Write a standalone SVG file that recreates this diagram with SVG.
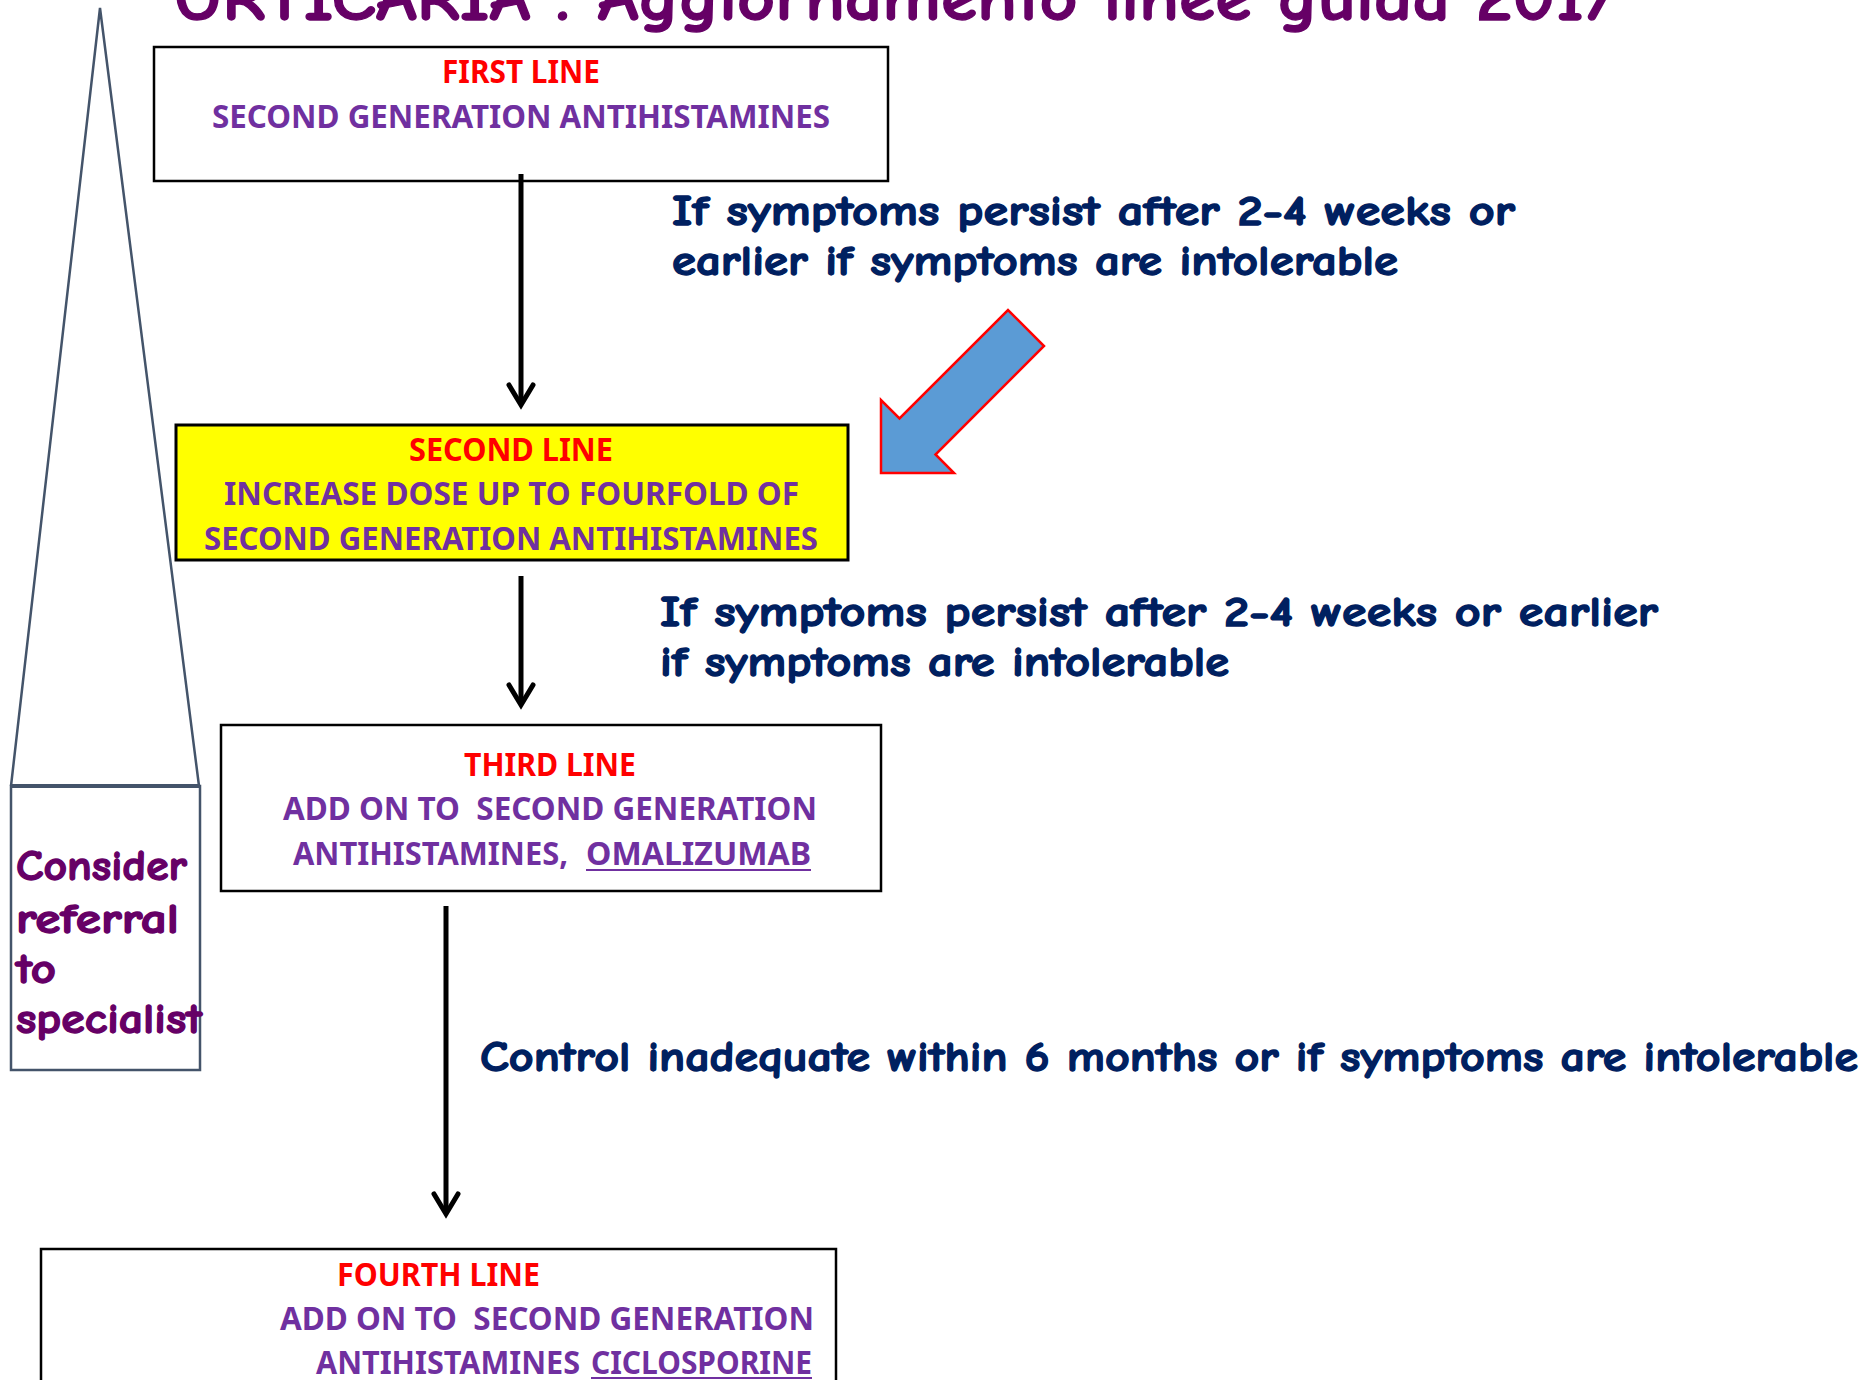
<svg xmlns="http://www.w3.org/2000/svg" width="1876" height="1380" viewBox="0 0 1876 1380">
<defs>
<style>
.comic{font-family:"Comic Sans MS","Comic Neue","DejaVu Sans",sans-serif;font-weight:bold}
.cal{font-family:"Noto Sans","Open Sans",sans-serif;font-weight:bold;font-size:32px;white-space:pre}
.red{fill:#FF0000}
.pur{fill:#7030A0}
.navy{fill:#002060;font-size:42px;stroke:#002060;stroke-width:1.3}
.plum{fill:#660066;stroke:#660066;stroke-width:1.3}
.box{fill:#FFFFFF;stroke:#000000;stroke-width:2.5}
.conn{stroke:#000000;stroke-width:5;fill:none}
.head{stroke:#000000;stroke-width:5;fill:none;stroke-linejoin:miter;stroke-linecap:round}
.ul{stroke:#7030A0;stroke-width:2}
</style>
</defs>
<rect x="0" y="0" width="1876" height="1380" fill="#FFFFFF"/>
<text class="comic plum" x="173" y="20" font-size="66" textLength="1444" lengthAdjust="spacingAndGlyphs">URTICARIA : Aggiornamento linee guida 2017</text>

<g id="referral">
<path d="M11,786 L100,8 L199,786" fill="none" stroke="#44546A" stroke-width="2.5"/>
<rect x="11" y="786" width="189" height="284" fill="none" stroke="#44546A" stroke-width="2.5"/>
<line x1="11" y1="786" x2="200" y2="786" stroke="#44546A" stroke-width="4"/>
<g class="comic plum" font-size="42">
<text x="16" y="880" textLength="171" lengthAdjust="spacingAndGlyphs">Consider</text>
<text x="16" y="933" textLength="163" lengthAdjust="spacingAndGlyphs">referral</text>
<text x="16" y="983" textLength="40" lengthAdjust="spacingAndGlyphs">to</text>
<text x="16" y="1033" textLength="186" lengthAdjust="spacingAndGlyphs">specialist</text>
</g>
</g>

<g id="first-line">
<rect class="box" x="154" y="47" width="734" height="134"/>
<text class="cal red" x="442" y="83" textLength="158" lengthAdjust="spacingAndGlyphs">FIRST LINE</text>
<text class="cal pur" x="212" y="128" textLength="618" lengthAdjust="spacingAndGlyphs">SECOND GENERATION ANTIHISTAMINES</text>
</g>

<g id="second-line">
<rect x="176" y="425" width="672" height="135" fill="#FFFF00" stroke="#000000" stroke-width="3"/>
<text class="cal red" x="409" y="461" textLength="204" lengthAdjust="spacingAndGlyphs">SECOND LINE</text>
<text class="cal pur" x="224" y="505" textLength="575" lengthAdjust="spacingAndGlyphs">INCREASE DOSE UP TO FOURFOLD OF</text>
<text class="cal pur" x="204" y="550" textLength="614" lengthAdjust="spacingAndGlyphs">SECOND GENERATION ANTIHISTAMINES</text>
</g>

<g id="third-line">
<rect class="box" x="221" y="725" width="660" height="166"/>
<text class="cal red" x="464" y="776" textLength="172" lengthAdjust="spacingAndGlyphs">THIRD LINE</text>
<text class="cal pur" x="283" y="820" textLength="534" lengthAdjust="spacingAndGlyphs" xml:space="preserve">ADD ON TO  SECOND GENERATION</text>
<text class="cal pur" x="293" y="865" textLength="275" lengthAdjust="spacingAndGlyphs">ANTIHISTAMINES,</text>
<text class="cal pur" x="586" y="865" textLength="225" lengthAdjust="spacingAndGlyphs">OMALIZUMAB</text>
<line class="ul" x1="586" y1="870" x2="811" y2="870"/>
</g>

<g id="fourth-line">
<rect class="box" x="41" y="1249" width="795" height="200"/>
<text class="cal red" x="337" y="1286" textLength="203" lengthAdjust="spacingAndGlyphs">FOURTH LINE</text>
<text class="cal pur" x="280" y="1330" textLength="534" lengthAdjust="spacingAndGlyphs" xml:space="preserve">ADD ON TO  SECOND GENERATION</text>
<text class="cal pur" x="316" y="1374" textLength="264" lengthAdjust="spacingAndGlyphs">ANTIHISTAMINES</text>
<text class="cal pur" x="591" y="1374" textLength="221" lengthAdjust="spacingAndGlyphs">CICLOSPORINE</text>
<line class="ul" x1="591" y1="1378" x2="812" y2="1378"/>
</g>

<g id="connectors">
<line class="conn" x1="521" y1="174" x2="521" y2="404"/>
<path class="head" d="M509,385 L521,405 L533,385"/>
<line class="conn" x1="521" y1="576" x2="521" y2="704"/>
<path class="head" d="M509,685 L521,705 L533,685"/>
<line class="conn" x1="446" y1="906" x2="446" y2="1213"/>
<path class="head" d="M434,1194 L446,1214 L458,1194"/>
</g>

<g id="block-arrow">
<polygon points="881,473 881,400 899.5,418.5 1008,310 1044,346 935.5,454.5 954,473" fill="#5B9BD5" stroke="#FF0000" stroke-width="2.5"/>
</g>

<g id="labels" class="comic navy">
<text x="672" y="225" textLength="843" lengthAdjust="spacingAndGlyphs">If symptoms persist after 2-4 weeks or</text>
<text x="672" y="275" textLength="726" lengthAdjust="spacingAndGlyphs">earlier if symptoms are intolerable</text>
<text x="660" y="626" textLength="998" lengthAdjust="spacingAndGlyphs">If symptoms persist after 2-4 weeks or earlier</text>
<text x="660" y="676" textLength="569" lengthAdjust="spacingAndGlyphs">if symptoms are intolerable</text>
<text x="480" y="1071" textLength="1378" lengthAdjust="spacingAndGlyphs">Control inadequate within 6 months or if symptoms are intolerable</text>
</g>
</svg>
